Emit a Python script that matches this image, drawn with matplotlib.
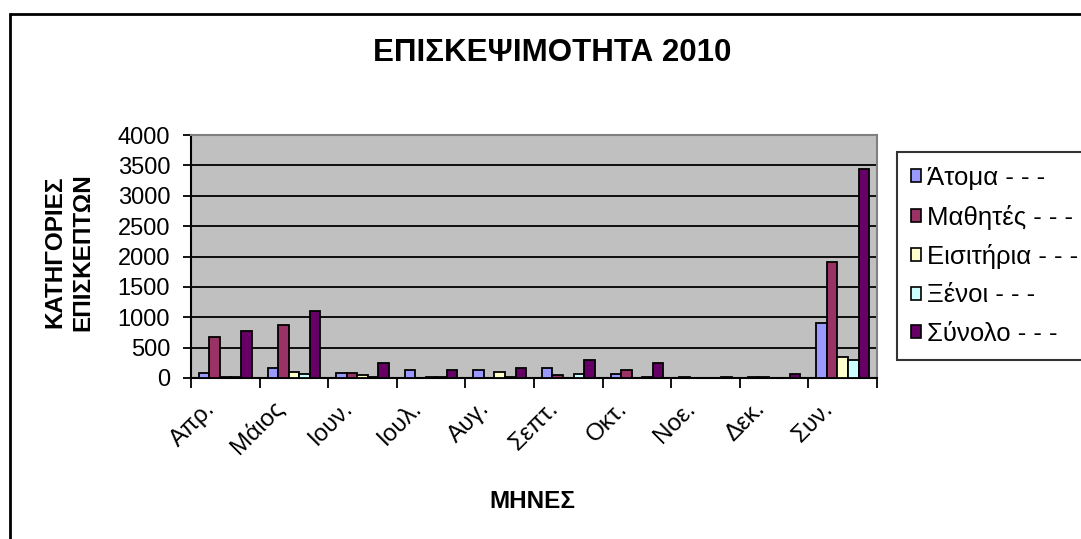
import matplotlib
matplotlib.use("Agg")
import matplotlib.pyplot as plt
import matplotlib.transforms as mtransforms
import numpy as np
from matplotlib.patches import Rectangle, Patch

plt.rcParams['font.family'] = ['Liberation Sans', 'DejaVu Sans']

# data
months = ['Απρ.', 'Μάιος', 'Ιουν.', 'Ιουλ.', 'Αυγ.', 'Σεπτ.', 'Οκτ.', 'Νοε.', 'Δεκ.', 'Συν.']
series_names = ['Άτομα - - -', 'Μαθητές - - -', 'Εισιτήρια - - -', 'Ξένοι - - -', 'Σύνολο - - -']
atoma = [90, 160, 88, 126, 126, 159, 60, 15, 15, 905]
mathites = [680, 870, 88, 0, 0, 49, 126, 0, 15, 1910]
eisitiria = [10, 95, 55, 15, 93, 0, 0, 0, 0, 345]
xenoi = [10, 60, 20, 15, 20, 60, 20, 0, 0, 290]
synolo = [780, 1100, 252, 126, 159, 290, 252, 20, 60, 3440]
colors = ['#9999FF', '#993366', '#FFFFCC', '#CCFFFF', '#660066']

W, H = 1081, 539
fig = plt.figure(figsize=(W / 100, H / 100), dpi=100)
fig.patch.set_facecolor('white')

# plot area in pixels: x 191..877, y 135..378
ax = fig.add_axes([191 / W, 1 - 378 / H, (877 - 191) / W, (378 - 135) / H])
ax.set_facecolor('#C0C0C0')

all_series = [atoma, mathites, eisitiria, xenoi, synolo]
x = np.arange(len(months))
bw = 1 / 6.5
for j, vals in enumerate(all_series):
    ax.bar(x + (j - 2) * bw, vals, width=bw, color=colors[j],
           edgecolor='black', linewidth=1.3, zorder=3)

ax.set_xlim(-0.5, len(months) - 0.5)
ax.set_ylim(0, 4000)
ax.set_yticks(np.arange(0, 4001, 500))
ax.yaxis.grid(True, color='black', linewidth=1.3, zorder=1)
ax.set_axisbelow(True)

# category labels: rotated, placed just left of each category centre
ax.set_xticks(np.arange(-0.5, len(months), 1))
ax.set_xticklabels([])
ax.tick_params(axis='x', length=7, width=1.3, direction='out')
lab_tr = mtransforms.blended_transform_factory(ax.transData, ax.transAxes) + \
    mtransforms.ScaledTranslation(-13 / 100, -27 / 100, fig.dpi_scale_trans)
for xi, m in zip(x, months):
    ax.text(xi, 0, m, transform=lab_tr, rotation=45, ha='right', va='center',
            rotation_mode='anchor', fontsize=17.5)

ax.tick_params(axis='y', length=6, width=1.3, labelsize=17, pad=9)

for s in ['left', 'bottom']:
    ax.spines[s].set_color('black')
    ax.spines[s].set_linewidth(1.5)
for s in ['top', 'right']:
    ax.spines[s].set_color('#808080')
    ax.spines[s].set_linewidth(1.5)

fig.text(552 / W, 1 - 53 / H, 'ΕΠΙΣΚΕΨΙΜΟΤΗΤΑ 2010', ha='center', va='center',
         fontsize=22.5, fontweight='bold')
fig.text(532 / W, 1 - 501 / H, 'ΜΗΝΕΣ', ha='center', va='center',
         fontsize=17.5, fontweight='bold')
fig.text(69 / W, 1 - 252 / H, 'ΚΑΤΗΓΟΡΙΕΣ\nΕΠΙΣΚΕΠΤΩΝ', ha='center', va='center',
         rotation=90, fontsize=17.5, fontweight='bold', linespacing=1.25)

handles = [Patch(facecolor=c, edgecolor='black', linewidth=1.2) for c in colors]
leg = fig.legend(handles, series_names, loc='upper left',
                 bbox_to_anchor=(897 / W, 1 - 152 / H), borderaxespad=0,
                 fontsize=18.5, frameon=True, fancybox=False, shadow=False,
                 handlelength=0.4, handleheight=0.4, handletextpad=0.2,
                 labelspacing=0.56, borderpad=0.55)
leg.get_frame().set_edgecolor('black')
leg.get_frame().set_linewidth(1.5)

# outer chart border, cut at the right and bottom
fig.add_artist(Rectangle((10 / W, -0.1), 1.2, 1.1 - 14 / H, transform=fig.transFigure,
                         fill=False, edgecolor='black', linewidth=2))

fig.savefig('out.png', dpi=100)
